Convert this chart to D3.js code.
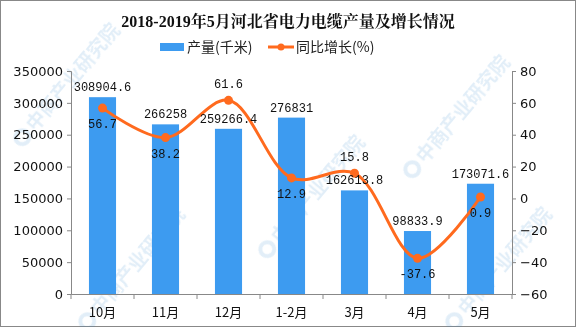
<!DOCTYPE html>
<html><head><meta charset="utf-8">
<script src="https://cdn.jsdelivr.net/npm/d3@7"></script>
<style>body{margin:0;background:#fff}svg{display:block}</style>
</head><body>
<svg id="c" width="576" height="327"></svg>
<script>
const categories = ["10月","11月","12月","1-2月","3月","4月","5月"];
const output = [308904.6, 266258, 259266.4, 276831, 162613.8, 98833.9, 173071.6];
const outputLabels = ["308904.6","266258","259266.4","276831","162613.8","98833.9","173071.6"];
const growth = [56.7, 38.2, 61.6, 12.9, 15.8, -37.6, 0.9];
const growthLabelPos = ["below","below","above","below","above","below","below"];
const leftTicks = [0,50000,100000,150000,200000,250000,300000,350000];
const rightTicks = [-60,-40,-20,0,20,40,60,80];

const svg = d3.select("#c");
const W=576,H=327, L=71, R=512, T=71, B=294;
const blue="#3d9bf0", orange="#ff6a1e";
const mono="'Liberation Mono','DejaVu Sans Mono',monospace";

svg.append("rect").attr("x",0.5).attr("y",0.5).attr("width",W-1).attr("height",H-1).attr("fill","#fff").attr("stroke","#888");

// watermarks
const wm = svg.append("g").attr("opacity",0.15);
[[30,128],[95,312],[275,240],[420,160],[462,312]].forEach(([x,y])=>{
  const g=wm.append("g").attr("transform",`translate(${x},${y}) rotate(-50)`);
  g.append("circle").attr("cx",-12).attr("cy",0).attr("r",7).attr("fill","none").attr("stroke","#3d8fd0").attr("stroke-width",4);
  g.append("text").attr("x",0).attr("y",7).attr("font-size",19).attr("font-weight","bold").attr("fill","#3d8fd0")
   .attr("font-family","'Noto Sans CJK SC',sans-serif").text("中商产业研究院");
});

const x = d3.scaleBand().domain(categories).range([L,R]).paddingInner(0.57).paddingOuter(0.285);
const xb = d3.scaleBand().domain(categories).range([L,R]);
const yL = d3.scaleLinear().domain([0,350000]).range([B,T]);
const yR = d3.scaleLinear().domain([-60,80]).range([B,T]);

// title
svg.append("text").attr("x",288).attr("y",27).attr("text-anchor","middle")
  .attr("font-family","'Liberation Serif','Noto Serif CJK SC','Noto Sans CJK SC',serif").attr("font-weight","bold")
  .attr("font-size",16).attr("fill","#111").text("2018-2019年5月河北省电力电缆产量及增长情况");

// legend
const lg = svg.append("g").attr("font-family","'Noto Sans CJK SC',sans-serif").attr("font-size",14).attr("fill","#222");
lg.append("rect").attr("x",160).attr("y",43).attr("width",24).attr("height",8).attr("fill",blue);
lg.append("text").attr("x",187).attr("y",52).text("产量(千米)");
lg.append("line").attr("x1",268).attr("x2",294).attr("y1",47).attr("y2",47).attr("stroke",orange).attr("stroke-width",3);
lg.append("circle").attr("cx",281).attr("cy",47).attr("r",3.5).attr("fill",orange);
lg.append("text").attr("x",296).attr("y",52).text("同比增长(%)");

// axes
const axL = svg.append("g").attr("transform",`translate(${L},0)`)
  .call(d3.axisLeft(yL).tickValues(leftTicks).tickSize(4).tickPadding(4).tickFormat(d3.format("d")));
const axR = svg.append("g").attr("transform",`translate(${R},0)`)
  .call(d3.axisRight(yR).tickValues(rightTicks).tickSize(4).tickPadding(4).tickFormat(d=>d<0?"\u2212"+Math.abs(d):d));
const axX = svg.append("g").attr("transform",`translate(0,${B})`)
  .call(d3.axisBottom(xb).tickSize(0).tickPadding(12));
axX.selectAll(".tick text").attr("dy","0.85em");
// band-boundary ticks
svg.append("g").selectAll("line").data(categories.concat(["end"])).join("line")
  .attr("x1",(d,i)=>L+i*xb.step()).attr("x2",(d,i)=>L+i*xb.step())
  .attr("y1",B).attr("y2",B+5).attr("stroke","#888");
[axL,axR,axX].forEach(a=>{
  a.selectAll("path.domain,line").attr("stroke","#888");
  a.selectAll("text").attr("font-family","'DejaVu Sans','Liberation Sans',sans-serif").attr("font-size",13).attr("fill","#111");
});
axX.selectAll("text").attr("font-family","'Noto Sans CJK SC',sans-serif").attr("font-size",13);

// bars
svg.append("g").selectAll("rect").data(output).join("rect")
  .attr("x",(d,i)=>x(categories[i])).attr("y",d=>yL(d))
  .attr("width",x.bandwidth()).attr("height",d=>B-yL(d)).attr("fill",blue);

// line
const cx = i=>xb(categories[i])+xb.bandwidth()/2;
svg.append("path").datum(growth)
  .attr("d",d3.line().x((d,i)=>cx(i)).y(d=>yR(d)).curve(d3.curveCatmullRom.alpha(0.5)))
  .attr("fill","none").attr("stroke",orange).attr("stroke-width",3);
svg.append("g").selectAll("circle").data(growth).join("circle")
  .attr("cx",(d,i)=>cx(i)).attr("cy",d=>yR(d)).attr("r",4.5).attr("fill",orange);

// bar labels
svg.append("g").selectAll("text").data(output).join("text")
  .attr("x",(d,i)=>cx(i)).attr("y",d=>yL(d)-6).attr("text-anchor","middle")
  .attr("font-family",mono).attr("font-size",12).attr("fill","#111")
  .text((d,i)=>outputLabels[i]);
// line labels
svg.append("g").selectAll("text").data(growth).join("text")
  .attr("x",(d,i)=>cx(i)).attr("y",(d,i)=>growthLabelPos[i]==="above"?yR(d)-12:yR(d)+20)
  .attr("text-anchor","middle").attr("font-family",mono).attr("font-size",12).attr("fill","#111")
  .text(d=>d);
</script>
</body></html>
